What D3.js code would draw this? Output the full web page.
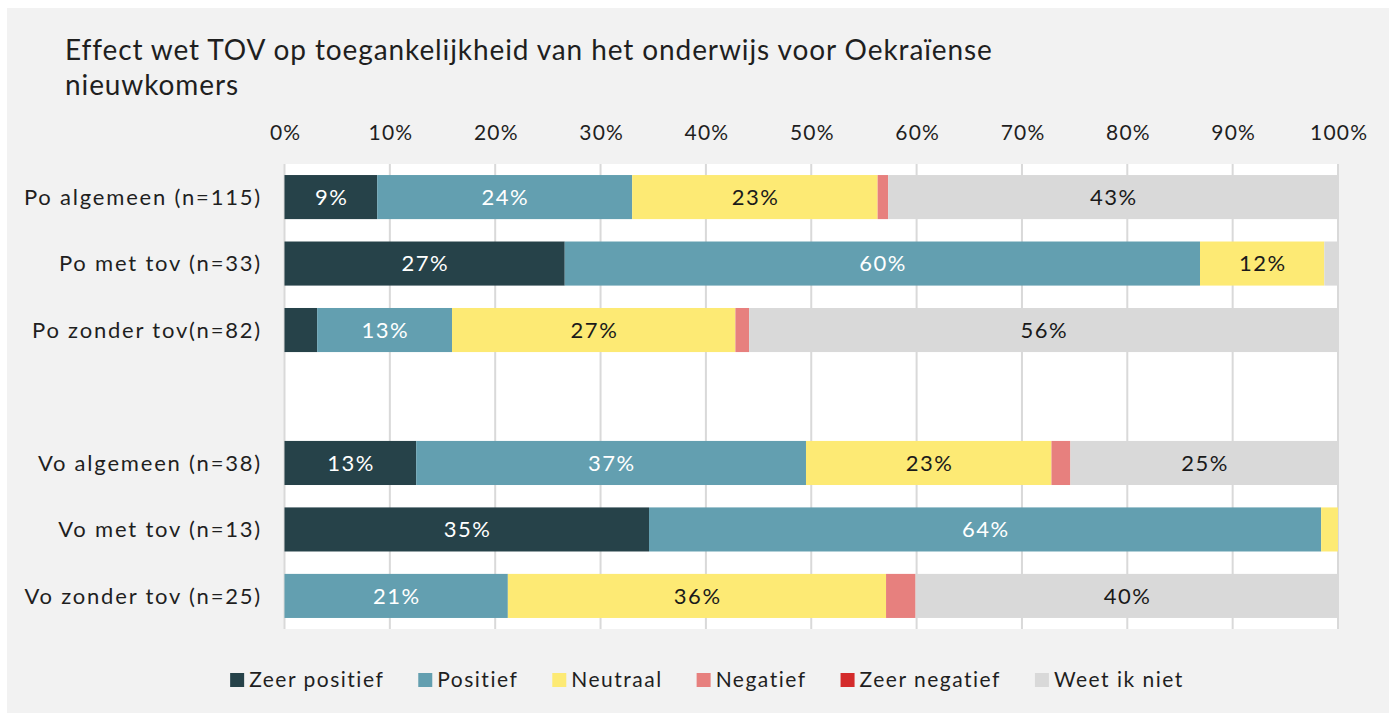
<!DOCTYPE html>
<html>
<head>
<meta charset="utf-8">
<script src="https://cdn.jsdelivr.net/npm/d3@7"></script>
<style>
  html, body { margin: 0; padding: 0; background: #ffffff; }
  svg { display: block; }
  text { font-family: Lato, "Noto Sans", sans-serif; }
</style>
</head>
<body>
<svg id="chart" width="1389" height="713"></svg>
<script>
// Groups (an empty entry leaves the gap between primary and secondary education)
const categories = [
  "Po algemeen (n=115)",
  "Po met tov (n=33)",
  "Po zonder tov(n=82)",
  "",
  "Vo algemeen (n=38)",
  "Vo met tov (n=13)",
  "Vo zonder tov (n=25)"
];

const seriesNames = ["Zeer positief", "Positief", "Neutraal", "Negatief", "Zeer negatief", "Weet ik niet"];

// Percentages per answer, one value per group (null for the gap row)
const zeerPositief = [8.8, 26.6, 3.1, null, 12.5, 34.6, 0];
const positief     = [24.2, 60.3, 12.8, null, 37.0, 63.8, 21.2];
const neutraal     = [23.3, 11.8, 26.9, null, 23.3, 1.6, 35.9];
const negatief     = [1.0, 0, 1.3, null, 1.8, 0, 2.8];
const zeerNegatief = [0, 0, 0, null, 0, 0, 0];
const weetIkNiet   = [42.7, 1.3, 55.9, null, 25.4, 0, 40.1];

const tickValues = [0, 10, 20, 30, 40, 50, 60, 70, 80, 90, 100];

const colors = ["#264249", "#639fb0", "#fdea74", "#e7807e", "#d42b2b", "#d9d9d9"];
const labelColors = ["#ffffff", "#ffffff", "#1a1a1a", "#1a1a1a", "#ffffff", "#1a1a1a"];

const seriesValues = [zeerPositief, positief, neutraal, negatief, zeerNegatief, weetIkNiet];

const svg = d3.select("#chart");

// Panel background
svg.append("rect")
  .attr("x", 7).attr("y", 8)
  .attr("width", 1389 - 7).attr("height", 713 - 8)
  .attr("fill", "#f2f2f2");

// Title
const title = svg.append("text")
  .attr("x", 65).attr("y", 60)
  .attr("font-size", 28)
  .attr("letter-spacing", 0.9)
  .attr("fill", "#1f1f1f");
title.append("tspan").attr("x", 65).attr("y", 60)
  .text("Effect wet TOV op toegankelijkheid van het onderwijs voor Oekraïense");
title.append("tspan").attr("x", 65).attr("y", 95)
  .text("nieuwkomers");

// Plot area
const plot = { left: 284.5, right: 1338, top: 164, bottom: 629 };

svg.append("rect")
  .attr("x", plot.left).attr("y", plot.top)
  .attr("width", plot.right - plot.left).attr("height", plot.bottom - plot.top)
  .attr("fill", "#ffffff");

const x = d3.scaleLinear().domain([0, 100]).range([plot.left, plot.right]);
const y = d3.scaleBand()
  .domain(d3.range(categories.length))
  .range([plot.top, plot.bottom])
  .paddingInner(0.337)
  .paddingOuter(0.166);

// Vertical gridlines
svg.append("g")
  .selectAll("line")
  .data(tickValues)
  .join("line")
  .attr("x1", d => x(d)).attr("x2", d => x(d))
  .attr("y1", plot.top).attr("y2", plot.bottom)
  .attr("stroke", "#d9d9d9")
  .attr("stroke-width", 2);

// Top axis labels
const axis = d3.axisTop(x)
  .tickValues(tickValues)
  .tickFormat(d => d + "%")
  .tickSize(0)
  .tickPadding(0);

const axisG = svg.append("g")
  .attr("transform", `translate(0, 140)`)
  .call(axis);
axisG.select(".domain").remove();
axisG.selectAll("text")
  .attr("font-family", "Lato, 'Noto Sans', sans-serif")
  .attr("font-size", 21)
  .attr("letter-spacing", 1.2)
  .attr("fill", "#1f1f1f")
  .attr("dx", 0.6)
  .attr("dy", 0);

// Category labels
svg.append("g")
  .selectAll("text")
  .data(categories)
  .join("text")
  .attr("x", 262)
  .attr("y", (d, i) => y(i) + y.bandwidth() / 2)
  .attr("dy", "0.36em")
  .attr("text-anchor", "end")
  .attr("font-size", 22)
  .attr("letter-spacing", 1.8)
  .attr("fill", "#1f1f1f")
  .text(d => d);

// Stack the series per group
const rows = categories.map((c, i) => {
  const row = { index: i };
  seriesNames.forEach((s, k) => { row[s] = seriesValues[k][i] || 0; });
  return row;
}).filter((r, i) => categories[i] !== "");

const stack = d3.stack().keys(seriesNames);
const stacked = stack(rows);

const layers = svg.append("g")
  .selectAll("g")
  .data(stacked)
  .join("g")
  .attr("fill", (d, k) => colors[k]);

layers.selectAll("rect")
  .data(d => d.filter(p => p[1] - p[0] > 0))
  .join("rect")
  .attr("x", p => x(p[0]))
  .attr("y", p => y(p.data.index))
  .attr("width", p => x(p[1]) - x(p[0]))
  .attr("height", y.bandwidth());

// Value labels for the wider segments
stacked.forEach((layer, k) => {
  svg.append("g")
    .selectAll("text")
    .data(layer.filter(p => p[1] - p[0] >= 5))
    .join("text")
    .attr("x", p => (x(p[0]) + x(p[1])) / 2 + 0.75)
    .attr("y", p => y(p.data.index) + y.bandwidth() / 2)
    .attr("dy", "0.36em")
    .attr("text-anchor", "middle")
    .attr("font-size", 22)
    .attr("letter-spacing", 1.5)
    .attr("fill", labelColors[k])
    .text(p => Math.round(p[1] - p[0]) + "%");
});

// Legend
const legend = svg.append("g");
const items = legend.selectAll("g")
  .data(seriesNames)
  .join("g");

items.append("rect")
  .attr("width", 14).attr("height", 14)
  .attr("y", -14)
  .attr("fill", (d, k) => colors[k]);

items.append("text")
  .attr("x", 19)
  .attr("y", 0)
  .attr("font-size", 21)
  .attr("letter-spacing", 1.5)
  .attr("fill", "#1f1f1f")
  .text(d => d);

let offset = 0;
const gap = 34;
const widths = [];
items.each(function () {
  const w = 19 + d3.select(this).select("text").node().getComputedTextLength();
  widths.push(w);
});
const total = d3.sum(widths) + gap * (widths.length - 1);
const startX = 707 - total / 2;
items.attr("transform", (d, k) => {
  const tx = startX + offset;
  offset += widths[k] + gap;
  return `translate(${tx}, 687)`;
});
</script>
</body>
</html>
